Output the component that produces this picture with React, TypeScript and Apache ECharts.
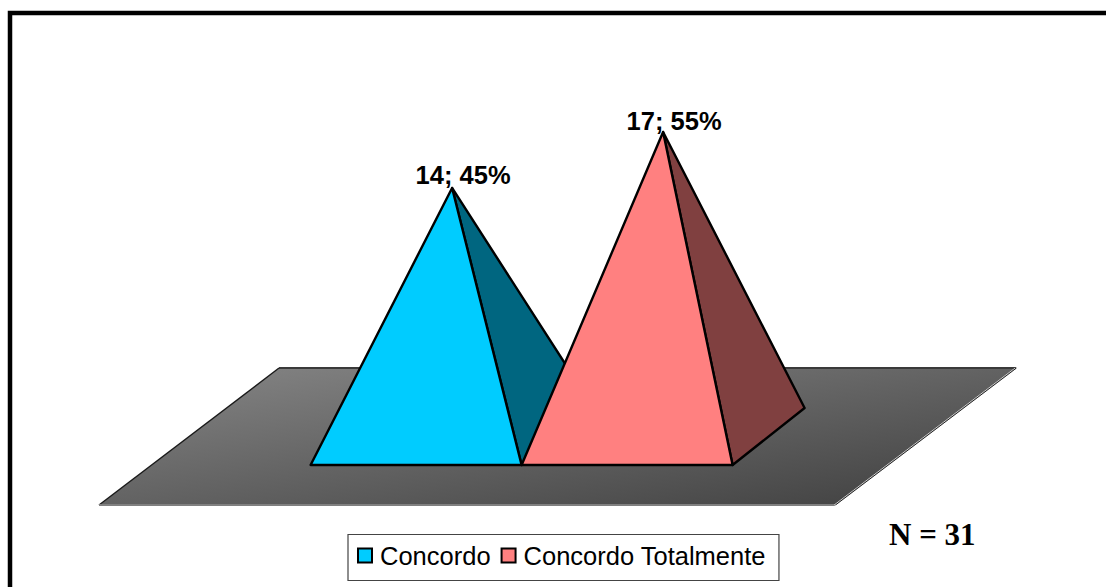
import React, { useEffect, useRef } from "react";
import * as echarts from "echarts";

const categories = ["Concordo", "Concordo Totalmente"];
const counts = [14, 17];
const sampleSize = 31;
const frontColors = ["#00CCFF", "#FF8080"];
const sideColors = ["#006680", "#804040"];
const labelDrop = [0, 1.5];

const total = counts.reduce((a, b) => a + b, 0);

// Draws the grey floor plane that the pyramids stand on.
const renderFloor = (_params: any, api: any) => {
  const front = api.coord([0, -3])[1];
  const back = front - 137;
  const floorFill = new echarts.graphic.LinearGradient(
    279, 366, 318, 621,
    [
      { offset: 0, color: "#808080" },
      { offset: 1, color: "#3c3c3c" },
    ],
    true
  );
  const bl: number[] = [99, front];
  const br: number[] = [835, front];
  const tr: number[] = [1016, back];
  const tl: number[] = [279, back];
  const edge = (a: number[], b: number[], color: string, w: number, dx = 0) => ({
    type: "line",
    shape: { x1: a[0] + dx, y1: a[1], x2: b[0] + dx, y2: b[1] },
    style: { stroke: color, lineWidth: w },
  });
  return {
    type: "group",
    children: [
      { type: "polygon", shape: { points: [tl, tr, br, bl] }, style: { fill: floorFill } },
      edge(tl, tr, "#3a3a3a", 2),
      edge(tl, bl, "#1a1a1a", 1.4),
      edge(bl, br, "#808080", 2),
      edge(br, tr, "#d0d0d0", 1, -0.8),
      edge(br, tr, "#222222", 1, 0.5),
    ],
  };
};

// Draws one square pyramid: the apex height comes from the value axis,
// the base is a sheared square sitting on the floor.
const renderPyramid = (index: number) => (_params: any, api: any) => {
  const apex = api.coord([api.value(0), api.value(1)]);
  const band = api.size([1, 0])[0];
  const floorFront = api.coord([0, -3])[1];
  const baseFrontY = floorFront - 40;
  const depthX = 36;
  const depthY = 57;
  const fl = [apex[0] - band / 2 - depthX, baseFrontY];
  const fr = [apex[0] + band / 2 - depthX, baseFrontY];
  const br = [apex[0] + band / 2 + depthX, baseFrontY - depthY];
  const strokeStyle = { stroke: "#000", lineWidth: 2.4, lineJoin: "round" };
  const value = api.value(1);
  return {
    type: "group",
    children: [
      {
        type: "polygon",
        shape: { points: [fr, br, apex] },
        style: { fill: sideColors[index], ...strokeStyle },
      },
      {
        type: "polygon",
        shape: { points: [fl, fr, apex] },
        style: { fill: frontColors[index], ...strokeStyle },
      },
      {
        type: "text",
        x: apex[0] + 11,
        y: apex[1] + labelDrop[index],
        style: {
          text: `${value}; ${Math.round((value / total) * 100)}%`,
          fill: "#000",
          font: 'bold 25.5px "Liberation Sans", Arial, sans-serif',
          textAlign: "center",
          textVerticalAlign: "bottom",
        },
      },
    ],
  };
};

export default function App() {
  const ref = useRef<HTMLDivElement>(null);

  useEffect(() => {
    const chart = echarts.init(ref.current!, null, { renderer: "svg" });
    chart.setOption({
      animation: false,
      backgroundColor: "#fff",
      grid: { left: 346.6, right: 1106 - 768.6, top: 132, bottom: 587 - 505 },
      xAxis: { type: "category", data: categories, show: false },
      yAxis: { type: "value", min: -3, max: 17, show: false },
      legend: {
        data: categories,
        left: 348,
        top: 534.5,
        orient: "horizontal",
        backgroundColor: "#fff",
        borderColor: "#444",
        borderWidth: 1.2,
        padding: [8, 13, 12, 9],
        itemWidth: 14,
        itemHeight: 14,
        itemGap: 10,
        icon: "rect",
        textStyle: {
          color: "#000",
          fontFamily: '"Liberation Sans", Arial, sans-serif',
          fontSize: 25.5,
          padding: [0, 0, 4, 3],
        },
      },
      graphic: [
        {
          type: "rect",
          z: 100,
          shape: { x: 10, y: 13, width: 1300, height: 800 },
          style: { fill: "none", stroke: "#000", lineWidth: 4.5 },
        },
        {
          type: "text",
          x: 889,
          y: 519,
          style: {
            text: `N = ${sampleSize}`,
            fill: "#000",
            font: 'bold 31px "Liberation Serif", "Times New Roman", serif',
          },
        },
      ],
      series: [
        {
          type: "custom",
          name: "floor",
          silent: true,
          z: 1,
          renderItem: renderFloor,
          data: [[0, -3]],
          encode: { x: 0, y: 1 },
        },
        ...categories.map((name, i) => ({
          type: "custom",
          name,
          z: 2 + i,
          renderItem: renderPyramid(i),
          itemStyle: { color: frontColors[i], borderColor: "#000", borderWidth: 2 },
          data: [[i, counts[i]]],
          encode: { x: 0, y: 1 },
        })),
      ],
    });
    return () => chart.dispose();
  }, []);

  return (
    <div
      ref={ref}
      style={{ position: "fixed", left: 0, top: 0, width: 1106, height: 587 }}
    />
  );
}
